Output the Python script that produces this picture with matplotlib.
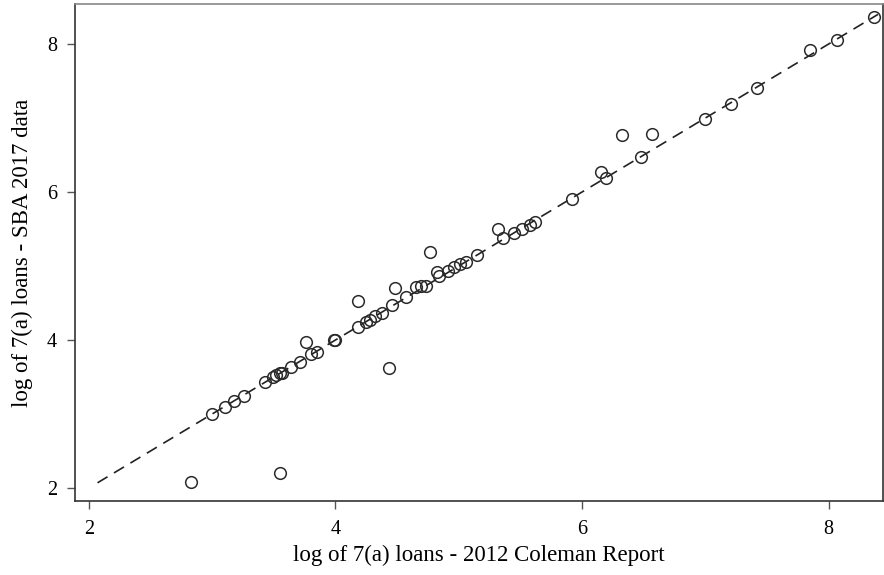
import matplotlib
matplotlib.use('Agg')
import matplotlib.pyplot as plt

# log of 7(a) loans by state: Coleman Report 2012 vs SBA 2017
coleman_2012 = [2.83, 3.55, 4.43, 3.00, 3.10, 3.18, 3.26, 3.43, 3.49, 3.52,
                3.55, 3.57, 3.64, 3.71, 3.76, 3.80, 3.85, 3.99, 4.00, 4.18,
                4.18, 4.25, 4.28, 4.32, 4.38, 4.46, 4.48, 4.57, 4.65, 4.69,
                4.73, 4.77, 4.82, 4.84, 4.91, 4.96, 5.01, 5.06, 5.15, 5.32,
                5.36, 5.45, 5.51, 5.58, 5.62, 5.92, 6.15, 6.19, 6.32, 6.48,
                6.57, 7.00, 7.21, 7.42, 7.85, 8.07, 8.37]
sba_2017 = [2.08, 2.20, 3.62, 3.00, 3.09, 3.18, 3.24, 3.43, 3.50, 3.53,
            3.55, 3.56, 3.64, 3.70, 3.97, 3.81, 3.84, 4.00, 4.00, 4.18,
            4.53, 4.24, 4.27, 4.32, 4.36, 4.47, 4.70, 4.58, 4.72, 4.73,
            4.73, 5.19, 4.92, 4.86, 4.93, 4.99, 5.03, 5.05, 5.15, 5.50,
            5.38, 5.45, 5.50, 5.55, 5.59, 5.91, 6.27, 6.19, 6.77, 6.47,
            6.78, 6.99, 7.19, 7.41, 7.92, 8.05, 8.36]

# 45-degree reference line
line_range = [2.07, 8.40]
ticks = [2, 4, 6, 8]

plt.rcParams['font.family'] = ['Liberation Serif', 'DejaVu Serif']

fig = plt.figure(figsize=(8.84, 5.75), dpi=100)
ax = fig.add_axes([0.0848, 0.1287, 0.914, 0.8643])

ax.plot(line_range, line_range, color='#222222', linewidth=1.2,
        linestyle=(0, (7, 4.5)), zorder=1)
ax.plot(coleman_2012, sba_2017, linestyle='none', marker='o',
        markersize=8.4, markerfacecolor='none', markeredgecolor='#2a2a2a',
        markeredgewidth=1.1, zorder=2)

ax.set_xlim(1.887, 8.44)
ax.set_ylim(1.824, 8.54)
ax.set_xticks(ticks)
ax.set_yticks(ticks)

for side in ['left', 'bottom', 'top', 'right']:
    ax.spines[side].set_color('#333333')
    ax.spines[side].set_linewidth(1.2)
ax.spines['top'].set_color('#888888')

ax.tick_params(direction='out', length=6, width=1, color='#555555',
               labelsize=14.5, pad=8)
ax.tick_params(axis='y', pad=7)
ax.set_xlabel('log of 7(a) loans - 2012 Coleman Report', fontsize=16.5,
              labelpad=4)
ax.set_ylabel('log of 7(a) loans - SBA 2017 data', fontsize=16.5,
              labelpad=10)

fig.savefig('out.png', dpi=100)
